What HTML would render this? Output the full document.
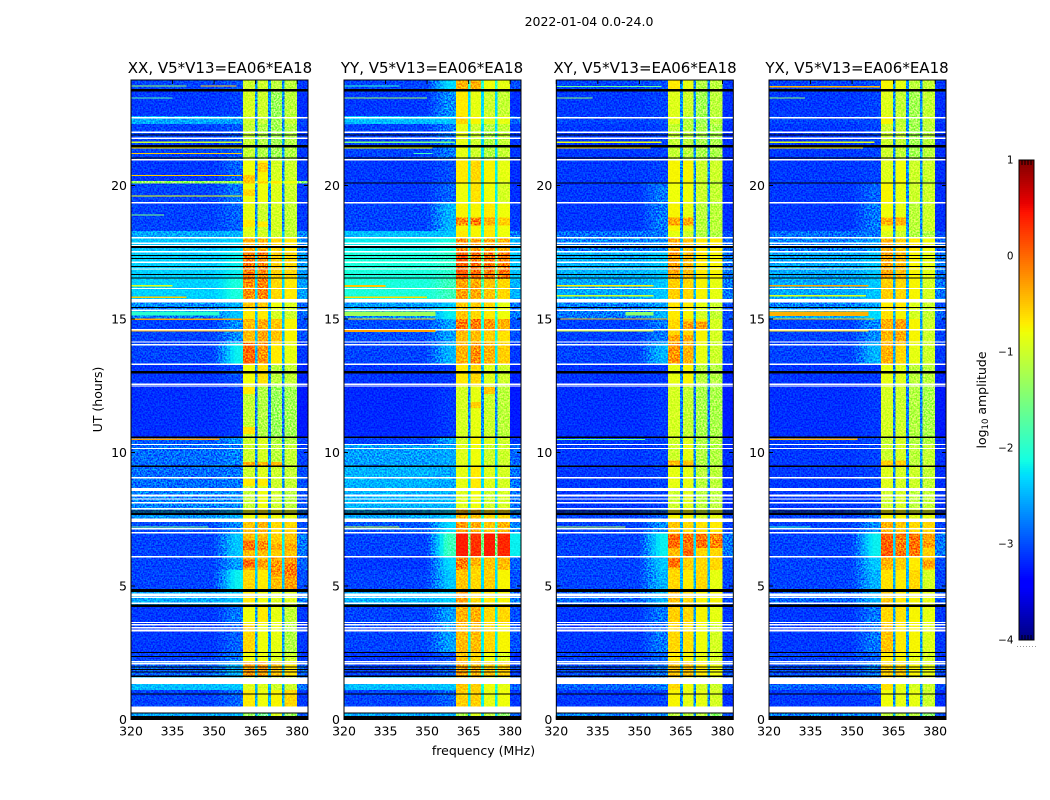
<!DOCTYPE html>
<html lang="en">
<head>
<meta charset="utf-8">
<title>2022-01-04 0.0-24.0</title>
<style>
html,body{margin:0;padding:0;background:#fff;width:1050px;height:800px;overflow:hidden}
svg{display:block;font-family:"DejaVu Sans","Liberation Sans",sans-serif;fill:#000}
.noise{mix-blend-mode:overlay}
</style>
</head>
<body>
<svg id="figure" xmlns="http://www.w3.org/2000/svg" width="1050" height="800" viewBox="0 0 1050 800">
  <defs>
    <filter id="speckle" x="0" y="0" width="100%" height="100%" color-interpolation-filters="sRGB">
      <feTurbulence type="fractalNoise" baseFrequency="0.62" numOctaves="1" seed="7"/>
      <feColorMatrix type="matrix" values="1 0 0 0 0 1 0 0 0 0 1 0 0 0 0 0 0 0 0 1"/>
      <feComponentTransfer><feFuncR type="linear" slope="3" intercept="-1"/><feFuncG type="linear" slope="3" intercept="-1"/><feFuncB type="linear" slope="3" intercept="-1"/></feComponentTransfer>
    </filter>
  </defs>
  <rect width="1050" height="800" fill="#fff"/>
  <text x="589" y="26" font-size="12.5" text-anchor="middle">2022-01-04 0.0-24.0</text>
  <text x="220" y="73" font-size="15" text-anchor="middle">XX, V5*V13=EA06*EA18</text>
  <text x="432" y="73" font-size="15" text-anchor="middle">YY, V5*V13=EA06*EA18</text>
  <text x="645" y="73" font-size="15" text-anchor="middle">XY, V5*V13=EA06*EA18</text>
  <text x="857" y="73" font-size="15" text-anchor="middle">YX, V5*V13=EA06*EA18</text>
  <text transform="translate(102 399.5) rotate(-90)" font-size="12.5" text-anchor="middle">UT (hours)</text>
  <text x="483.5" y="755" font-size="12.5" text-anchor="middle">frequency (MHz)</text>
  <text transform="translate(986 400) rotate(-90)" font-size="12.5" text-anchor="middle">log<tspan font-size="8.5" dy="2">10</tspan><tspan dy="-2"> amplitude</tspan></text>
  <g id="panels"></g>
  <g id="colorbar"></g>
</svg>
<script>
// Time bands (UT hours), descending; one row of values per band
const utEdges = [24,23.6,22.6,22.3,21,20.17,20.07,19.35,18.3,18.04,17.5,16.5,15.7,15.4,15,14.1,13.3,12.5,10.6,10.3,9.5,8.6,7.9,7.46,7,6.1,5.6,4.85,4.3,3.6,2.5,2.16,1.6,1.1,0.3,0];
// Frequency bands (MHz) and which value column each band reads
const freqEdges = [320,350,360.4,364.7,365.7,369.5,370.5,374.5,375.5,380,384];
const freqColumn = [0,1,2,6,3,6,4,6,5,7];
const xTicks = [320,335,350,365,380];
const yTicks = [0,5,10,15,20];
const colorbarTicks = [1,0,-1,-2,-3,-4];
const colorbarTickLabels = ['1','0','\u22121','\u22122','\u22123','\u22124'];
const panelNames = ['xx','yy','xy','yx'];

// log10 amplitude: [background, shoulder, sub1, sub2, sub3, sub4, notch, upper edge]
const rowsXX = [
[-3.05,-3,-1,-1,-1.1,-1.1,-2.7,-3.1],[-3.1,-3.05,-.95,-1,-1.3,-1.1,-2.7,-3.15],[-2.55,-2.6,-1,-1.05,-1.25,-1.05,-2.7,-3.05],
[-3.05,-2.95,-1.05,-1.15,-1.25,-1.15,-2.7,-3.1],[-3.1,-2.9,-.8,-.75,-.95,-1,-2.7,-3.1],[-1.3,-1.2,-.5,-.6,-.7,-.8,-1.5,-1.4],
[-3.05,-2.8,-.8,-.8,-.9,-1,-2.7,-3.1],[-3.05,-2.9,-.85,-1,-.95,-1.05,-2.7,-3.1],[-2.55,-2.5,-.9,-.95,-1,-1.05,-2.4,-2.7],
[-2.4,-2.3,-.4,-.4,-.6,-.7,-2.3,-2.7],[-2.35,-2.2,-.1,-.15,-.55,-.6,-2.2,-2.6],[-2.35,-2.1,-.2,-.15,-.6,-.7,-2.3,-2.6],
[-2.7,-2.5,-.5,-.5,-.8,-.9,-2.5,-2.9],[-2.8,-2.4,-.7,-.7,-.95,-1,-2.4,-2.9],[-3.05,-2.7,-.45,-.35,-.5,-.75,-2.4,-3],
[-3.05,-2.2,0,-.25,-.7,-.85,-2.5,-3.1],[-3.12,-3,-.8,-.65,-1.1,-1.05,-2.7,-3.2],[-3.15,-3.1,-1.05,-1.15,-1.3,-1.25,-2.8,-3.25],
[-2.95,-2.7,-1,-.9,-1.15,-1.15,-2.7,-3.1],[-2.85,-2.75,-1,-.95,-1.1,-1.05,-2.7,-3.05],[-2.85,-2.8,-1,-.9,-1,-1.05,-2.7,-3],
[-2.75,-2.7,-1.05,-.8,-1,-1.1,-2.7,-3],[-2.65,-2.5,-.8,-.7,-.8,-.85,-2.5,-2.9],[-3,-2.7,-.5,-.4,-.6,-.6,-2.4,-3],
[-3.05,-2.4,-.45,-.45,-.55,-.5,-2.2,-2.8],[-3.05,-2.6,-.45,-.5,-.35,-.3,-2.3,-2.9],[-3.05,-2.2,-.6,-.7,-.45,-.3,-2.4,-3],
[-2.55,-2.4,-.7,-.8,-.9,-.9,-2.5,-2.8],[-3.1,-2.8,-.8,-.7,-.85,-1.05,-2.6,-3.1],[-3.1,-2.9,-.6,-.8,-.85,-1.15,-2.6,-3.1],
[-3.05,-2.8,-.8,-.8,-.9,-1,-2.6,-3.1],[-2.9,-2.5,-.3,-.3,-.5,-.65,-2.4,-2.9],[-2.45,-2.4,-.9,-.9,-1,-1,-2.5,-2.8],
[-3.05,-2.9,-.7,-.8,-.75,-.6,-2.5,-3.1],[-2.55,-2.5,-1.3,-1.6,-.9,-1.3,-2.5,-2.9]];
const rowsYY = [
[-3.05,-2.3,-.4,-.4,-.8,-.85,-2,-3],[-3.1,-2.7,-.7,-.85,-1,-1.05,-2.3,-3.15],[-2.45,-2.4,-.6,-.75,-.9,-.85,-2.1,-2.9],
[-3.05,-2.8,-.85,-1,-1.15,-1.05,-2.3,-3.1],[-3.1,-3,-.7,-.6,-.75,-.85,-2.2,-3.15],[-3.1,-3,-.7,-.7,-.8,-.9,-2.2,-3.15],
[-3.1,-2.9,-.8,-.65,-.8,-.95,-2.2,-3.15],[-3.05,-2.5,-.75,-.75,-.7,-.8,-2.1,-3.1],[-2.45,-2.4,-.7,-.75,-.7,-.8,-2.1,-2.8],
[-2.2,-2.1,-.2,-.3,-.35,-.4,-1.9,-2.5],[-2.1,-2,.05,-.05,-.1,-.1,-1.7,-2.4],[-2.1,-1.9,-.3,-.35,-.5,-.6,-1.8,-2.5],
[-2.6,-2.4,-.5,-.5,-.6,-.85,-2.1,-2.8],[-2.7,-2.2,-.5,-.6,-.7,-.8,-2,-2.8],[-3,-2.6,-.45,-.45,-.55,-.65,-2.1,-3],
[-3.05,-2.5,-.4,-.2,-.4,-.55,-2.2,-3.1],[-3.12,-3.1,-.7,-.6,-.9,-1,-2.5,-3.2],[-3.18,-3.1,-.95,-.85,-1,-1.1,-2.7,-3.25],
[-3.05,-2.6,-.95,-.75,-.9,-1,-2.4,-3.1],[-2.6,-2.55,-.9,-.8,-1,-1,-2.3,-2.9],[-2.5,-2.55,-.85,-.7,-.9,-.95,-2.3,-2.8],
[-2.5,-2.5,-.9,-.8,-1,-.95,-2.3,-2.8],[-2.55,-2.4,-.4,-.5,-.6,-.6,-2.1,-2.8],[-2.95,-2.3,-.25,-.35,-.5,-.4,-2,-2.7],
[-3.05,-1.9,.4,.3,.4,.35,-1.6,-2.2],[-3.1,-2.3,-.2,-.55,-.5,-.45,-2.2,-2.9],[-3.05,-2.4,-.5,-.6,-.55,-.75,-2.3,-3],
[-2.5,-2.35,-.3,-.6,-.7,-.75,-2.1,-2.8],[-3.05,-2.6,-.4,-.4,-.6,-.6,-2.2,-3],[-3.05,-2.6,-.45,-.45,-.6,-.75,-2.2,-3],
[-3.1,-3,-.5,-.6,-.8,-.9,-2.3,-3.15],[-3.05,-2.9,-.3,-.4,-.5,-.55,-2.1,-3.05],[-2.45,-2.4,-.5,-.55,-.8,-.85,-2.1,-2.9],
[-3.05,-2.9,-.55,-.55,-.85,-.8,-2.2,-3.1],[-2.55,-2.5,-1.2,-.9,-1.1,-1.4,-2.4,-2.9]];
const rowsXY = [
[-3.05,-3,-.7,-.85,-1.15,-1.1,-2.7,-3.1],[-3.1,-3.05,-.9,-1,-1.25,-1.1,-2.7,-3.15],[-3.05,-3,-.9,-1.1,-1.25,-1.1,-2.7,-3.1],
[-3.1,-3.05,-1.05,-1.1,-1.2,-1.2,-2.7,-3.15],[-3.1,-3.05,-.75,-.75,-1,-1,-2.7,-3.15],[-3.1,-3.05,-.75,-.75,-1,-1.1,-2.7,-3.15],
[-3.1,-2.8,-.8,-.8,-1,-1.05,-2.7,-3.15],[-3.1,-2.8,-.75,-.85,-1.1,-1.1,-2.7,-3.15],[-2.85,-2.8,-.85,-1,-1.15,-1.15,-2.6,-3],
[-2.75,-2.7,-.35,-.5,-.7,-.7,-2.5,-2.9],[-2.5,-2.4,-.3,-.45,-.7,-.75,-2.4,-2.8],[-2.55,-2.4,-.55,-.6,-.75,-.85,-2.5,-2.8],
[-2.75,-2.6,-.65,-.7,-.85,-1,-2.6,-3],[-2.8,-2.5,-.7,-.75,-.95,-1.05,-2.6,-3],[-3.05,-2.8,-.6,-.6,-.75,-.95,-2.6,-3.05],
[-3.05,-2.5,-.25,-.4,-.85,-1,-2.6,-3.1],[-3.12,-3.1,-.85,-.75,-1.1,-1.15,-2.7,-3.2],[-3.15,-3.1,-.95,-1.05,-1.2,-1.2,-2.8,-3.25],
[-3.1,-3.05,-1,-.9,-1.15,-1.15,-2.7,-3.15],[-3.1,-3.05,-1,-.85,-1.15,-1.15,-2.7,-3.15],[-3.1,-3.05,-.85,-.85,-1.1,-1.1,-2.7,-3.15],
[-3.1,-3.05,-1,-.9,-1.1,-1.1,-2.7,-3.15],[-3.05,-2.9,-.75,-.75,-.95,-.85,-2.6,-3.05],[-3.05,-2.7,-.5,-.6,-.65,-.7,-2.5,-3.05],
[-3.05,-2.2,-.45,-.4,-.6,-.6,-2.3,-2.8],[-3.05,-2.4,-.5,-.55,-.6,-.6,-2.4,-3],[-3.05,-2.5,-.6,-.7,-.6,-.85,-2.5,-3.05],
[-2.9,-2.5,-.45,-.6,-.75,-.75,-2.5,-3],[-3.1,-2.8,-.55,-.6,-.75,-.85,-2.6,-3.1],[-3.1,-2.8,-.6,-.65,-.8,-.95,-2.6,-3.1],
[-3.05,-2.9,-.7,-.75,-.85,-.95,-2.6,-3.1],[-3,-2.8,-.5,-.5,-.7,-.8,-2.5,-3],[-2.9,-2.8,-.6,-.8,-.95,-1,-2.6,-3],
[-3.1,-3.05,-.75,-.85,-.85,-.95,-2.7,-3.15],[-2.75,-2.7,-1.1,-1.1,-1.1,-1.4,-2.6,-3]];
const rowsYX = [
[-3.05,-3,-.75,-.85,-1.1,-1.05,-2.7,-3.1],[-3.1,-3.05,-.9,-1.05,-1.25,-1.05,-2.7,-3.15],[-3.05,-3,-.75,-1.05,-1.25,-1.05,-2.7,-3.1],
[-3.1,-3.05,-1,-1.05,-1.25,-1.1,-2.7,-3.15],[-3.1,-3.05,-.9,-.8,-1,-1,-2.7,-3.15],[-3.1,-3.05,-.85,-.75,-1,-1.1,-2.7,-3.15],
[-3.1,-2.9,-.75,-.85,-1,-1,-2.7,-3.15],[-3.1,-2.8,-.8,-.85,-1.1,-1,-2.7,-3.15],[-2.85,-2.8,-.9,-1,-1.15,-1.15,-2.6,-3],
[-2.75,-2.6,-.4,-.55,-.7,-.8,-2.5,-2.9],[-2.55,-2.4,-.35,-.45,-.75,-.85,-2.4,-2.8],[-2.55,-2.4,-.55,-.6,-.75,-.95,-2.5,-2.8],
[-2.75,-2.6,-.7,-.7,-.9,-1,-2.6,-3],[-2.55,-2.3,-.65,-.75,-.95,-1.05,-2.5,-2.9],[-3.05,-2.7,-.4,-.35,-.75,-1,-2.6,-3.05],
[-3.05,-2.5,-.4,-.6,-.85,-1,-2.6,-3.1],[-3.12,-3.1,-.85,-.9,-1.1,-1.1,-2.7,-3.2],[-3.15,-3.1,-.95,-1,-1.15,-1.2,-2.8,-3.25],
[-3.1,-3.05,-1.05,-.95,-1.15,-1.15,-2.7,-3.15],[-3.1,-3.05,-1,-.95,-1.1,-1.05,-2.7,-3.15],[-3.1,-3.05,-.9,-.95,-1,-1.05,-2.7,-3.15],
[-3.1,-3.05,-1,-.95,-1.1,-1.05,-2.7,-3.15],[-3.05,-2.9,-.75,-.75,-.9,-.85,-2.6,-3.05],[-3.05,-2.7,-.4,-.5,-.6,-.6,-2.5,-3.05],
[-3.05,-2.2,-.2,-.3,-.4,-.55,-2.3,-2.8],[-3.05,-2.4,-.45,-.55,-.7,-.55,-2.4,-3],[-3.05,-2.5,-.65,-.7,-.6,-.95,-2.5,-3.05],
[-2.9,-2.5,-.5,-.7,-.75,-.85,-2.5,-3],[-3.1,-2.8,-.6,-.65,-.75,-.85,-2.6,-3.1],[-3.1,-2.8,-.5,-.7,-.75,-.9,-2.6,-3.1],
[-3.05,-2.9,-.7,-.75,-.85,-.95,-2.6,-3.1],[-3,-2.8,-.55,-.55,-.75,-.85,-2.5,-3],[-2.9,-2.8,-.65,-.85,-.95,-1,-2.6,-3],
[-3.1,-3.05,-.8,-.85,-.85,-1,-2.7,-3.15],[-2.75,-2.7,-1.1,-1.1,-1.1,-1.4,-2.6,-3]];

// Brighter or fainter episodes inside a sub-band: [UT high, UT low, sub-band 1-4, log10 amplitude]
const patchesXX = [[20.85,20.5,2,-.55],[20.4,20.17,1,-.5],[19.85,19.6,1,-.6],[18.7,18.45,1,-.7],[18.65,18.45,2,-.7],[9.65,9.47,1,-.4],[9.65,9.47,2,-.4],[9.65,9.47,3,-.45],[9,8.75,1,-.7],[9,8.75,2,-.7],[12.45,12.2,1,-.7],[10.95,10.7,1,-.65],[6.7,6.35,1,-.05],[6.7,6.35,2,-.2],[6.6,6.35,3,-.35],[6.6,6.35,4,-.35],[6,5.7,1,0],[6,5.7,2,-.3],[5.95,5.4,3,-.25],[5.85,5.35,4,-.1]];
const patchesYY = [[18.8,18.5,1,-.2],[18.8,18.5,2,-.1],[18.8,18.5,3,-.4],[18.8,18.5,4,-.55],[15,14.55,1,-.1],[15,14.55,2,-.1],[15,14.55,3,-.25],[15,14.55,4,-.4],[11.9,11.67,2,-.55],[12.45,12.2,3,-.5],[6.05,5.7,1,-.1],[6.05,5.75,2,-.4]];
const patchesXY = [[18.8,18.5,1,-.35],[18.8,18.5,2,-.35],[14.9,14.6,2,-.3],[14.9,14.6,3,-.3],[14.4,14.15,1,-.35],[14.4,14.15,2,-.35],[9.7,9.5,1,-.45],[9.7,9.5,2,-.5],[6.95,6.42,1,0],[6.95,6.42,2,-.05],[6.95,6.42,3,-.05],[6.95,6.42,4,-.15],[6.4,6.1,2,0],[6.05,5.7,1,-.05]];
const patchesYX = [[18.8,18.5,1,-.4],[18.8,18.5,2,-.4],[14.9,14.6,2,-.3],[14.4,14.15,1,-.45],[9.7,9.5,1,-.55],[9.7,9.5,2,-.55],[6.95,6.1,1,.05],[6.95,6.1,2,-.1],[6.95,6.1,3,-.05],[6.95,6.45,4,-.3],[6.05,5.7,1,-.4],[5.95,5.7,4,-.3]];

// Narrow interference lines: [UT, log10 amplitude, start MHz, end MHz, duration h]
const rfiXX = [[23.72,-1.3,320,340,.04],[23.72,-.5,345,358,.04],[23.27,-1.8,320,335,.04],[21.62,-1,320,360,.04],[21.4,-.7,320,360,.04],[21.2,-.5,320,360,.04],[20.38,-.5,320,360,.04],[19.6,-.8,320,360,.04],[18.9,-1.5,320,332,.04],[16.24,-.9,320,335,.06],[15.82,-.5,320,340,.05],[15.2,-2,320,352,.15],[14.99,-.3,320,360,.05],[14.55,-.4,320,360,.05],[10.49,-.3,320,352,.05],[7.21,-1.6,320,348,.04]];
const rfiYY = [[23.72,-2,320,340,.04],[23.27,-1.3,320,350,.04],[21.62,-1.5,320,360,.04],[21.4,-.8,320,352,.04],[21.2,-1.9,345,352,.04],[16.24,-.5,320,335,.07],[15.82,-.6,320,350,.05],[15.2,-1.3,320,353,.16],[15,-.6,320,353,.05],[14.55,-.3,320,353,.08],[7.21,-1,320,340,.04]];
const rfiXY = [[23.7,-1.6,320,358,.04],[23.27,-1.4,320,333,.04],[21.62,-.8,320,358,.04],[21.4,-.6,320,354,.04],[16.24,-.7,320,355,.05],[15.87,-1,320,355,.05],[15.2,-1.4,345,355,.13],[15,-.4,320,360,.05],[14.55,-.9,320,355,.05],[10.49,-1.6,320,352,.04],[7.21,-1.2,320,345,.04]];
const rfiYX = [[23.7,-.4,320,360,.05],[23.27,-1.4,320,333,.04],[21.62,-.9,320,358,.04],[21.4,-.7,320,354,.04],[16.24,-.3,320,356,.06],[15.87,-.9,320,355,.05],[15.2,-.4,320,356,.16],[15,-.5,320,358,.05],[14.55,-.6,320,356,.05],[10.49,-.4,320,352,.05],[7.21,-2,320,335,.04]];

// Flagged (blank) and zero-valued integrations: [UT, duration h]
const blankTimes = [[22.54,.05],[22,.05],[21.77,.05],[20.97,.05],[19.35,.05],[18.04,.05],[17.84,.05],[17.76,.04],[17.52,.05],[17.12,.05],[16.87,.04],[16.14,.05],[15.68,.13],[15.33,.05],[14.6,.05],[14.14,.05],[14.04,.05],[13.31,.05],[12.56,.05],[12.49,.05],[10.3,.05],[10.15,.05],[9.05,.05],[8.61,.12],[8.39,.07],[8.26,.05],[8.12,.05],[7.89,.05],[7.46,.13],[7.14,.05],[6.99,.05],[6.09,.05],[4.66,.12],[4.57,.05],[4.36,.05],[3.63,.05],[3.55,.05],[3.44,.05],[3.33,.08],[2.16,.05],[2.09,.05],[1.45,.24],[.375,.21]];
const zeroTimes = [[23.57,.09],[21.9,.03],[21.47,.1],[21.03,.05],[17.7,.08],[17.39,.03],[17.27,.03],[16.97,.04],[16.67,.04],[16.54,.04],[15.43,.04],[13.01,.1],[10.57,.04],[9.49,.05],[7.81,.04],[7.7,.1],[4.83,.1],[4.26,.08],[2.51,.04],[2.36,.04],[1.96,.04],[1.88,.04],[1.78,.04],[1.62,.04],[.95,.04],[.25,.04],[.07,.13]];
const zeroTimesYY = [[20.1,.04]];
const zeroTimesXY = [[20.1,.04]];
const zeroTimesYX = [[20.1,.04]];
const zeroTimesXX = [];

const panelRows = [rowsXX,rowsYY,rowsXY,rowsYX];
const panelPatches = [patchesXX,patchesYY,patchesXY,patchesYX];
const panelRfi = [rfiXX,rfiYY,rfiXY,rfiYX];
const panelZero = [zeroTimesXX,zeroTimesYY,zeroTimesXY,zeroTimesYX];

const NS = 'http://www.w3.org/2000/svg';
const PANEL_LEFT = [131,344,556.3,769];
const PX_PER_MHZ = 2.77;
const PX_PER_HOUR = 26.7;
const AXIS_BOTTOM = 719.5;
const AXIS_TOP = 80;
const AXIS_WIDTH = 177;
const SHOULDER_STEPS = 7;
const xScale = (left, f) => left + (f - 320) * PX_PER_MHZ;
const yScale = ut => AXIS_BOTTOM - ut * PX_PER_HOUR;
const piece = (t, pts) => {
  for (let i = 1; i < pts.length; i++) {
    if (t <= pts[i][0]) {
      const a = pts[i-1], b = pts[i];
      return a[1] + (b[1] - a[1]) * (t - a[0]) / (b[0] - a[0]);
    }
  }
  return pts[pts.length-1][1];
};
const colorScale = v => {
  const t = Math.max(0, Math.min(1, (v + 4) / 5));
  const r = piece(t, [[0,0],[.35,0],[.66,1],[.89,1],[1,.5]]);
  const g = piece(t, [[0,0],[.125,0],[.375,1],[.64,1],[.91,0],[1,0]]);
  const b = piece(t, [[0,.5],[.11,1],[.34,1],[.65,0],[1,0]]);
  return 'rgb(' + Math.round(r*255) + ',' + Math.round(g*255) + ',' + Math.round(b*255) + ')';
};
const rect = (parent, x, y, w, h, fill) => {
  const el = document.createElementNS(NS, 'rect');
  el.setAttribute('x', x);
  el.setAttribute('y', y);
  el.setAttribute('width', w);
  el.setAttribute('height', h);
  el.setAttribute('fill', fill);
  parent.appendChild(el);
  return el;
};
const label = (parent, x, y, str, anchor, size) => {
  const el = document.createElementNS(NS, 'text');
  el.setAttribute('x', x);
  el.setAttribute('y', y);
  el.setAttribute('text-anchor', anchor);
  el.setAttribute('font-size', size);
  el.textContent = str;
  parent.appendChild(el);
  return el;
};
const segment = (parent, x1, y1, x2, y2) => {
  const el = document.createElementNS(NS, 'line');
  el.setAttribute('x1', x1);
  el.setAttribute('y1', y1);
  el.setAttribute('x2', x2);
  el.setAttribute('y2', y2);
  el.setAttribute('stroke', '#000');
  el.setAttribute('stroke-width', '1');
  parent.appendChild(el);
  return el;
};

const panelsRoot = document.getElementById('panels');
panelNames.forEach((pname, p) => {
  const left = PANEL_LEFT[p];
  const g = document.createElementNS(NS, 'g');
  
  
  panelsRoot.appendChild(g);

  const clip = document.createElementNS(NS, 'clipPath');
  clip.setAttribute('id', 'clip-' + pname);
  rect(clip, left, AXIS_TOP, AXIS_WIDTH, AXIS_BOTTOM - AXIS_TOP, '#000');
  g.appendChild(clip);

  const heat = document.createElementNS(NS, 'g');
  
  
  heat.setAttribute('clip-path', 'url(#clip-' + pname + ')');
  heat.setAttribute('shape-rendering', 'crispEdges');
  heat.setAttribute('style', 'isolation:isolate');
  g.appendChild(heat);

  panelRows[p].forEach((row, r) => {
    const yTop = yScale(utEdges[r]);
    const yBot = yScale(utEdges[r+1]);
    freqColumn.forEach((col, c) => {
      const x0 = xScale(left, freqEdges[c]);
      const x1 = xScale(left, freqEdges[c+1]);
      if (col === 1) {
        // the shoulder rises smoothly out of the background toward the band edge
        const stepW = (x1 - x0) / SHOULDER_STEPS;
        for (let s = 0; s < SHOULDER_STEPS; s++) {
          const mix = Math.min(1, (s + .5) / (SHOULDER_STEPS * .7));
          const shade = rect(heat, x0 + s * stepW, yTop, stepW + .5, yBot - yTop + .5, colorScale(row[0] + (row[1] - row[0]) * mix));
          
          
        }
      } else {
        const cell = rect(heat, x0, yTop, x1 - x0 + .5, yBot - yTop + .5, colorScale(row[col]));
        
        
      }
    });
  });

  panelPatches[p].forEach(pt => {
    const edgeIndex = (pt[2] - 1) * 2 + 2;
    const x0 = xScale(left, freqEdges[edgeIndex]);
    const x1 = xScale(left, freqEdges[edgeIndex + 1]);
    const el = rect(heat, x0, yScale(pt[0]), x1 - x0, yScale(pt[1]) - yScale(pt[0]), colorScale(pt[3]));
    
    
  });

  const noise = rect(heat, left, AXIS_TOP, AXIS_WIDTH, AXIS_BOTTOM - AXIS_TOP, '#808080');
  noise.setAttribute('filter', 'url(#speckle)');
  noise.setAttribute('class', 'noise');
  noise.setAttribute('opacity', '0.7');
  
  

  blankTimes.forEach(b => {
    const el = rect(heat, left, yScale(b[0] + b[1]/2), AXIS_WIDTH, Math.max(1, b[1]*PX_PER_HOUR), '#fff');
    
    
  });
  zeroTimes.concat(panelZero[p]).forEach(b => {
    const el = rect(heat, left, yScale(b[0] + b[1]/2), AXIS_WIDTH, Math.max(1, b[1]*PX_PER_HOUR), '#000');
    
    
  });
  panelRfi[p].forEach(l => {
    const el = rect(heat, xScale(left, l[2]), yScale(l[0] + l[4]/2), (l[3]-l[2])*PX_PER_MHZ, Math.max(1, l[4]*PX_PER_HOUR), colorScale(l[1]));
    
    
  });

  const frame = rect(g, left, AXIS_TOP, AXIS_WIDTH, AXIS_BOTTOM - AXIS_TOP, 'none');
  frame.setAttribute('stroke', '#000');
  frame.setAttribute('stroke-width', '1');
  
  

  xTicks.forEach(f => {
    const x = xScale(left, f);
    const t1 = segment(g, x, AXIS_BOTTOM, x, AXIS_BOTTOM - 4);
    
    
    const t2 = segment(g, x, AXIS_TOP, x, AXIS_TOP + 4);
    
    
    const tx = label(g, x, 735.5, String(f), 'middle', 12.5);
    
    
  });
  yTicks.forEach(u => {
    const y = yScale(u);
    const t1 = segment(g, left, y, left + 4, y);
    
    
    const t2 = segment(g, left + AXIS_WIDTH, y, left + AXIS_WIDTH - 4, y);
    
    
    const ty = label(g, left - 4, y + 4.5, String(u), 'end', 12.5);
    
    
  });
});

// Colorbar
const cb = document.getElementById('colorbar');
const CB_X = 1019, CB_W = 15, CB_TOP = 160, CB_BOTTOM = 640;
const cbScale = v => CB_BOTTOM - (v + 4) / 5 * (CB_BOTTOM - CB_TOP);
for (let y = CB_TOP; y < CB_BOTTOM; y += 2) {
  const v = -4 + (CB_BOTTOM - y - 1) / (CB_BOTTOM - CB_TOP) * 5;
  const s = rect(cb, CB_X, y, CB_W, 2.2, colorScale(v));
  
  
}
const cbFrame = rect(cb, CB_X, CB_TOP, CB_W, CB_BOTTOM - CB_TOP, 'none');
cbFrame.setAttribute('stroke', '#000');
cbFrame.setAttribute('stroke-width', '1');


colorbarTicks.forEach((v, i) => {
  const l = label(cb, 1013.5, cbScale(v) + 3.5, colorbarTickLabels[i], 'end', 10.4);
  
  
});
[3,6,9,12].forEach(dx => {
  const t = segment(cb, CB_X + dx, CB_TOP, CB_X + dx, CB_TOP + 5);
  
  
  const b = segment(cb, CB_X + dx, CB_BOTTOM, CB_X + dx, CB_BOTTOM - 5);
  
  
});
[-2,1,4,7,10,13,16].forEach(dx => {
  const d = rect(cb, CB_X + dx, 646, 1, 1, '#999');
  
  
});
</script>
</body>
</html>
